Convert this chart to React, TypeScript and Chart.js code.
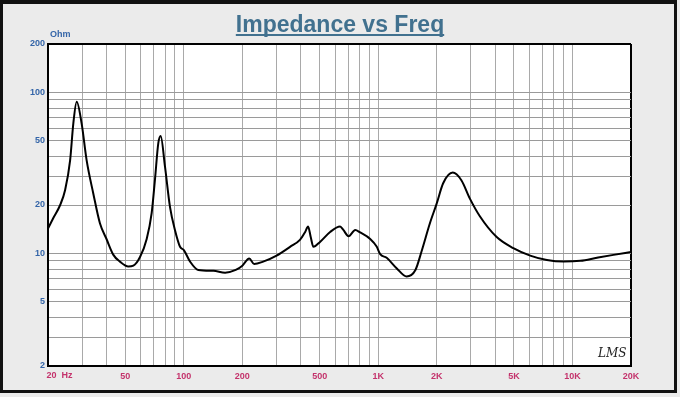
import React, { useEffect, useRef } from "react";
import { Chart, registerables } from "chart.js";

Chart.register(...registerables);

const titleText = "Impedance vs Freq";
const yUnitLabel = "Ohm";
const firstXLabel = "20  Hz";
const signature = "LMS";

const freqHz = [20, 21.3, 23.1, 24.5, 26, 27, 28.1, 29.8, 31.6, 34.2, 37, 40, 43.4, 46.9, 51.8, 55, 59.5, 64.4, 68.3, 71, 73.9, 76, 80, 84.9, 90, 95.6, 100, 107.7, 118.7, 142, 163, 185, 200, 217, 230, 256, 300, 352, 397, 421, 436, 450, 464, 502, 566, 637, 662, 704, 762, 808, 910, 984, 1024, 1106, 1244, 1400, 1555, 1676, 1846, 2000, 2160, 2420, 2680, 2960, 3330, 4060, 4960, 6060, 7380, 9000, 10980, 13360, 16250, 20000];
const impedanceOhm = [14.3, 16.6, 20, 24.8, 38, 64.3, 87.6, 64, 38, 23.6, 15.4, 12.3, 9.8, 8.9, 8.3, 8.4, 9.5, 12.3, 17.8, 28.6, 48.4, 53.7, 34.6, 19.4, 14.0, 11.0, 10.5, 8.9, 7.9, 7.8, 7.6, 7.9, 8.4, 9.3, 8.6, 8.9, 9.7, 11.0, 12.2, 13.6, 14.7, 12.6, 11.0, 11.8, 13.6, 14.7, 14.0, 12.8, 14.0, 13.5, 12.3, 11.0, 9.9, 9.4, 8.1, 7.2, 7.9, 10.4, 15.4, 20.4, 27.3, 31.8, 28.5, 22.0, 17.1, 12.7, 10.8, 9.7, 9.1, 8.9, 9.0, 9.4, 9.8, 10.2];

const xGridValues = [20, 30, 40, 50, 60, 70, 80, 90, 100, 200, 300, 400, 500, 600, 700, 800, 900, 1000, 2000, 3000, 4000, 5000, 6000, 7000, 8000, 9000, 10000, 20000];
const yGridValues = [2, 3, 4, 5, 6, 7, 8, 9, 10, 20, 30, 40, 50, 60, 70, 80, 90, 100, 200];

const xTickLabels: Record<number, string> = { 50: "50", 100: "100", 200: "200", 500: "500", 1000: "1K", 2000: "2K", 5000: "5K", 10000: "10K", 20000: "20K" };
const yTickLabels: Record<number, string> = { 2: "2", 5: "5", 10: "10", 20: "20", 50: "50", 100: "100", 200: "200" };

const FONT = "'Liberation Sans', Arial, sans-serif";
const Y_COLOR = "#3465a8";
const X_COLOR = "#c4336c";

export default function App() {
  const ref = useRef<HTMLCanvasElement | null>(null);

  useEffect(() => {
    const canvas = ref.current;
    if (!canvas) return;

    const decor = {
      id: "decor",
      beforeDraw(chart: any) {
        const { ctx, chartArea: a } = chart;
        ctx.save();
        ctx.fillStyle = "#ffffff";
        ctx.fillRect(a.left, a.top, a.right - a.left, a.bottom - a.top);
        ctx.restore();
      },
      afterDraw(chart: any) {
        const { ctx, chartArea: a } = chart;
        const xs = chart.scales.x;
        ctx.save();
        // title
        ctx.font = `bold 23px ${FONT}`;
        ctx.fillStyle = "#41718f";
        ctx.textAlign = "center";
        ctx.textBaseline = "alphabetic";
        const cx = chart.width / 2;
        ctx.fillText(titleText, cx, 32);
        const w = ctx.measureText(titleText).width;
        ctx.fillRect(cx - w / 2, 34, w, 2);
        // unit label
        ctx.font = `bold 9px ${FONT}`;
        ctx.fillStyle = Y_COLOR;
        ctx.textAlign = "left";
        ctx.textBaseline = "middle";
        ctx.fillText(yUnitLabel, a.left + 2, a.top - 9);
        // first x label
        ctx.fillStyle = X_COLOR;
        ctx.textBaseline = "top";
        ctx.fillText(firstXLabel, xs.getPixelForValue(20) - 1.5, a.bottom + 5);
        // signature
        ctx.font = `italic 12px 'DejaVu Serif', serif`;
        ctx.fillStyle = "#222";
        ctx.textBaseline = "alphabetic";
        ctx.fillText(signature, a.right - 33, a.bottom - 9);
        ctx.restore();
      },
    };

    const chart = new Chart(canvas, {
      type: "line",
      data: {
        datasets: [
          {
            data: freqHz.map((f, i) => ({ x: f, y: impedanceOhm[i] })),
            borderColor: "#000",
            borderWidth: 2,
            pointRadius: 0,
            fill: false,
            cubicInterpolationMode: "monotone",
          },
        ],
      },
      options: {
        responsive: false,
        animation: false,
        layout: { padding: { top: 44, right: 49, left: 0, bottom: 0 } },
        plugins: { legend: { display: false }, tooltip: { enabled: false }, title: { display: false } },
        scales: {
          x: {
            type: "logarithmic",
            min: 20,
            max: 20000,
            afterBuildTicks: (s: any) => {
              s.ticks = xGridValues.map((v) => ({ value: v }));
            },
            afterFit: (s: any) => {
              s.height = 31;
            },
            ticks: {
              autoSkip: false,
              maxRotation: 0,
              minRotation: 0,
              padding: 5,
              color: X_COLOR,
              font: { family: FONT, size: 9, weight: "bold" },
              callback: (v: any) => xTickLabels[Number(v)] ?? "",
            },
            grid: {
              drawTicks: false,
              color: (c: any) => (c.tick && c.tick.value === 20000 ? "#000" : "#a9a9a9"),
              lineWidth: (c: any) => (c.tick && c.tick.value === 20000 ? 2 : 1),
            },
            border: { display: true, color: "#000", width: 2 },
          },
          y: {
            type: "logarithmic",
            min: 2,
            max: 200,
            afterBuildTicks: (s: any) => {
              s.ticks = yGridValues.map((v) => ({ value: v }));
            },
            afterFit: (s: any) => {
              s.width = 48;
            },
            ticks: {
              autoSkip: false,
              padding: 3,
              color: Y_COLOR,
              font: { family: FONT, size: 9, weight: "bold" },
              callback: (v: any) => yTickLabels[Number(v)] ?? "",
            },
            grid: {
              drawTicks: false,
              color: (c: any) => (c.tick && c.tick.value === 200 ? "#000" : "#9a9a9a"),
              lineWidth: (c: any) => (c.tick && c.tick.value === 200 ? 2 : 1),
            },
            border: { display: true, color: "#000", width: 2 },
          },
        },
      },
      plugins: [decor],
    } as any);

    return () => chart.destroy();
  }, []);

  return (
    <div style={{ position: "absolute", left: 0, top: 0, width: 680, height: 397, background: "#ebebeb", overflow: "hidden" }}>
      <div
        style={{
          position: "absolute",
          left: 0,
          top: 0,
          width: 677,
          height: 393,
          boxSizing: "border-box",
          borderStyle: "solid",
          borderColor: "#111",
          borderWidth: "4px 3px 3px 3px",
        }}
      />
      <canvas ref={ref} width={680} height={397} style={{ position: "absolute", left: 0, top: 0, width: 680, height: 397 }} />
    </div>
  );
}
